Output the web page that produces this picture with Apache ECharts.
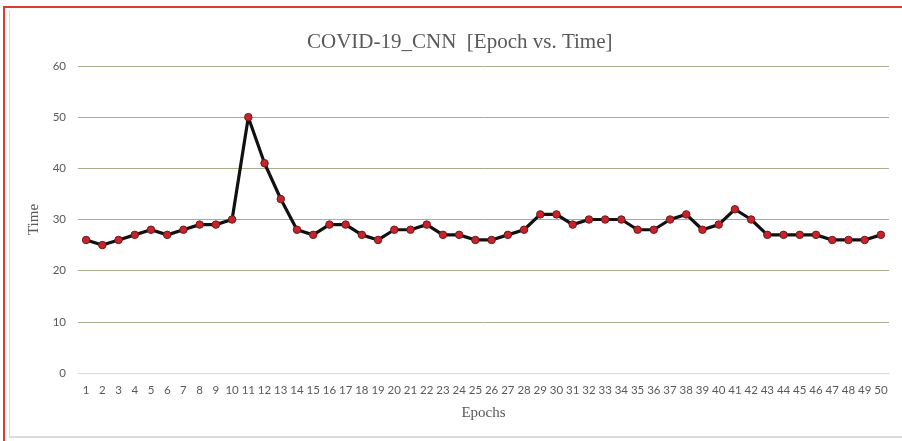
<!DOCTYPE html>
<html>
<head>
<meta charset="utf-8">
<script src="https://cdn.jsdelivr.net/npm/echarts@6/dist/echarts.min.js"></script>
<style>
  html, body { margin: 0; padding: 0; background: #ffffff; }
  #frame {
    position: absolute; left: 0; top: 0; width: 902px; height: 441px;
    overflow: hidden; background: #ffffff;
  }
  #redTop { position: absolute; left: 3px; top: 6px; width: 899px; height: 2px; background: #e0392f; }
  #redLeft { position: absolute; left: 3px; top: 6px; width: 2px; height: 435px; background: #e0392f; }
  #inner {
    position: absolute; left: 9px; top: 10px; width: 900px; height: 426px;
    border-left: 1px solid #dcdcdc; border-bottom: 2px solid #dcdcdc;
  }
  #chart { position: absolute; left: 0; top: 0; width: 902px; height: 441px; }
</style>
</head>
<body>
<div id="frame">
  <div id="inner"></div>
  <div id="redTop"></div>
  <div id="redLeft"></div>
  <div id="chart"></div>
</div>
<script>
// Training time per epoch
const epochs = Array.from({ length: 50 }, (_, i) => String(i + 1));
const timeValues = [
  26, 25, 26, 27, 28, 27, 28, 29, 29, 30,
  50, 41, 34, 28, 27, 29, 29, 27, 26, 28,
  28, 29, 27, 27, 26, 26, 27, 28, 31, 31,
  29, 30, 30, 30, 28, 28, 30, 31, 28, 29,
  32, 30, 27, 27, 27, 27, 26, 26, 26, 27
];
const yTicks = { min: 0, max: 60, interval: 10 };

const chart = echarts.init(document.getElementById('chart'), null, { renderer: 'canvas' });
chart.setOption({
  backgroundColor: 'transparent',
  animation: false,
  title: {
    text: 'COVID-19_CNN  [Epoch vs. Time]',
    left: 302,
    top: 27,
    textStyle: {
      fontFamily: 'Liberation Serif',
      fontWeight: 'normal',
      fontSize: 21,
      color: '#595959'
    }
  },
  grid: { left: 78, right: 13, top: 66, bottom: 68 },
  xAxis: {
    type: 'category',
    data: epochs,
    boundaryGap: true,
    name: 'Epochs',
    nameLocation: 'middle',
    nameGap: 33,
    nameTextStyle: { fontFamily: 'Liberation Serif', fontSize: 15, color: '#595959' },
    axisLine: { lineStyle: { color: '#d9d9d9', width: 1 } },
    axisTick: { show: false },
    axisLabel: {
      interval: 0, margin: 11,
      fontFamily: 'Lato', fontSize: 11.5, color: '#595959'
    }
  },
  yAxis: {
    type: 'value',
    min: yTicks.min, max: yTicks.max, interval: yTicks.interval,
    name: 'Time',
    nameLocation: 'middle',
    nameGap: 27,
    nameRotate: 90,
    nameTextStyle: { fontFamily: 'Liberation Serif', fontSize: 15, color: '#595959' },
    axisLine: { show: false },
    axisTick: { show: false },
    axisLabel: { margin: 12, fontFamily: 'Lato', fontSize: 11.5, color: '#595959' },
    splitLine: {
      lineStyle: {
        width: 1,
        // baseline (0) stays light grey, the rest olive
        color: ['#d9d9d9', '#a8ad8c', '#a8ad8c', '#a8ad8c', '#a8ad8c', '#a8ad8c', '#a8ad8c']
      }
    }
  },
  series: [{
    type: 'line',
    data: timeValues,
    symbol: 'circle',
    symbolSize: 7.5,
    lineStyle: { color: '#111111', width: 3.2 },
    itemStyle: { color: '#c8232c', borderColor: '#6b1a1a', borderWidth: 1 },
    z: 3
  }]
});
</script>
</body>
</html>
